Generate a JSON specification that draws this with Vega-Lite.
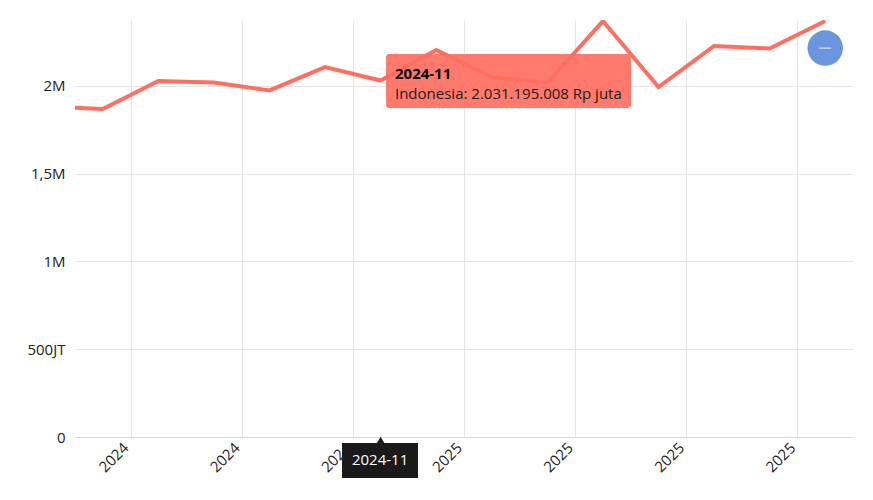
{
"$schema":"https://vega.github.io/schema/vega-lite/v6.json",
"width":778,"height":417,"autosize":"none",
"padding":{"left":75,"top":20,"right":20,"bottom":63},
"background":"white",
"config":{"view":{"stroke":null},"font":"Open Sans"},
"datasets":{
"series":[
{"month":5,"label":"2024-05","value":1882000},
{"month":6,"label":"2024-06","value":1869000},
{"month":7,"label":"2024-07","value":2028000},
{"month":8,"label":"2024-08","value":2020000},
{"month":9,"label":"2024-09","value":1975000},
{"month":10,"label":"2024-10","value":2108000},
{"month":11,"label":"2024-11","value":2031195.008},
{"month":12,"label":"2024-12","value":2205000},
{"month":13,"label":"2025-01","value":2051000},
{"month":14,"label":"2025-02","value":2017000},
{"month":15,"label":"2025-03","value":2370000},
{"month":16,"label":"2025-04","value":1994000},
{"month":17,"label":"2025-05","value":2228000},
{"month":18,"label":"2025-06","value":2214000},
{"month":19,"label":"2025-07","value":2370000}
],
"callout":[{"label":"2024-11","detail":"Indonesia: 2.031.195.008 Rp juta"}]
},
"layer":[
{"data":{"name":"series"},
 "mark":{"type":"line","color":"#ff6f61","strokeWidth":4,"clip":true,"strokeJoin":"miter"},
 "encoding":{
  "x":{"field":"month","type":"quantitative","title":null,
   "scale":{"domain":[5.5,19.5],"nice":false,"zero":false},
   "axis":{"values":[6.5,8.5,10.5,12.5,14.5,16.5,18.5],"labelExpr":"datum.value<12?'2024':'2025'","labelAngle":-45,"labelAlign":"right","labelBaseline":"middle","labelFontSize":15,"labelColor":"#222","labelPadding":8,"labelOffset":-5,"ticks":false,"grid":true,"gridColor":"#e4e4e4","domainColor":"#d9d9d9","labelOverlap":false,"labelBound":false,"labelFlush":false}},
  "y":{"field":"value","type":"quantitative","title":null,
   "scale":{"domain":[0,2376000],"nice":false},
   "axis":{"values":[0,500000,1000000,1500000,2000000],"labelExpr":"datum.value==0?'0':datum.value==500000?'500JT':datum.value==1000000?'1M':datum.value==1500000?'1,5M':'2M'","labelFontSize":15,"labelColor":"#222","labelPadding":10,"ticks":false,"domain":false,"grid":true,"gridColor":"#e4e4e4"}}
 }},
{"data":{"name":"callout"},
 "mark":{"type":"rect","color":"#ff6f61","opacity":0.92,"cornerRadius":3},
 "encoding":{"x":{"datum":11.097,"type":"quantitative"},"x2":{"datum":15.505},"y":{"datum":2182336,"type":"quantitative"},"y2":{"datum":1874644}}},
{"data":{"name":"callout"},
 "mark":{"type":"text","align":"left","baseline":"middle","fontSize":15,"fontWeight":"bold","color":"#000"},
 "encoding":{"x":{"datum":11.258,"type":"quantitative"},"y":{"datum":2068000,"type":"quantitative"},"text":{"field":"label"}}},
{"data":{"name":"callout"},
 "mark":{"type":"text","align":"left","baseline":"middle","fontSize":15,"color":"#1a1a1a"},
 "encoding":{"x":{"datum":11.258,"type":"quantitative"},"y":{"datum":1954000,"type":"quantitative"},"text":{"field":"detail"}}},
{"data":{"name":"callout"},
 "mark":{"type":"rect","color":"#1a1a1a","clip":false},
 "encoding":{"x":{"datum":10.305,"type":"quantitative"},"x2":{"datum":11.672},"y":{"datum":-34188,"type":"quantitative"},"y2":{"datum":-233618}}},
{"data":{"name":"callout"},
 "mark":{"type":"point","shape":"triangle-up","filled":true,"color":"#1a1a1a","size":60,"opacity":1},
 "encoding":{"x":{"datum":11,"type":"quantitative"},"y":{"datum":-17000,"type":"quantitative"}}},
{"data":{"name":"callout"},
 "mark":{"type":"text","align":"center","baseline":"middle","fontSize":15,"color":"#fff"},
 "encoding":{"x":{"datum":10.99,"type":"quantitative"},"y":{"datum":-131000,"type":"quantitative"},"text":{"field":"label"}}},
{"data":{"name":"callout"},
 "mark":{"type":"point","shape":"circle","filled":true,"color":"#6a96e0","size":1260,"opacity":1},
 "encoding":{"x":{"datum":19,"type":"quantitative"},"y":{"datum":2216000,"type":"quantitative"}}},
{"data":{"name":"callout"},
 "mark":{"type":"tick","orient":"horizontal","color":"#ffffff","size":12,"thickness":1,"opacity":0.9},
 "encoding":{"x":{"datum":19,"type":"quantitative"},"y":{"datum":2216000,"type":"quantitative"}}}
]
}
